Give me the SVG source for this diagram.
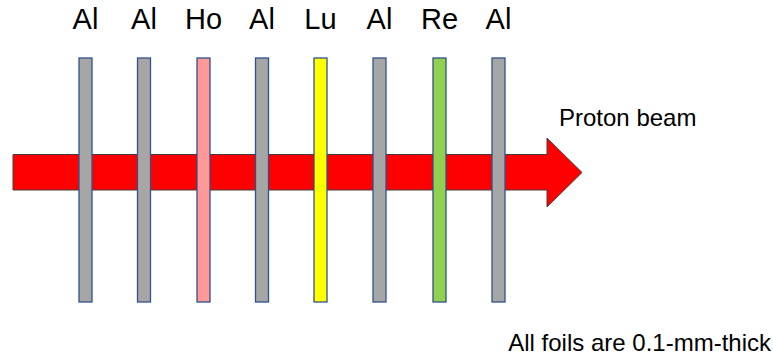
<svg xmlns="http://www.w3.org/2000/svg" width="773" height="360" viewBox="0 0 773 360">
<style>
text{font-family:"Liberation Sans",Arial,sans-serif;fill:#000}
.lbl{font-size:29px;text-anchor:middle}
.cap{font-size:24px}
.foil{stroke:#2F528F;stroke-width:1.3}
.al{fill:#A6A6A6}
</style>
<rect width="773" height="360" fill="#fff"/>
<g id="connectors">
<path id="beam" d="M13,154.5 L547,154.5 L547,138 L582,172.5 L547,207 L547,190 L13,190 Z" fill="#FF0000" stroke="#404040" stroke-width="1"/>
</g>
<g id="foil1"><rect class="foil al" x="79" y="58" width="13" height="244"/><text class="lbl" x="85.5" y="28.5">Al</text></g>
<g id="foil2"><rect class="foil al" x="137.5" y="58" width="13" height="244"/><text class="lbl" x="144" y="28.5">Al</text></g>
<g id="foil3"><rect class="foil" fill="#FF9999" x="197" y="58" width="13" height="244"/><text class="lbl" x="203.5" y="28.5">Ho</text></g>
<g id="foil4"><rect class="foil al" x="255.5" y="58" width="13" height="244"/><text class="lbl" x="262" y="28.5">Al</text></g>
<g id="foil5"><rect class="foil" fill="#FFFF00" x="314" y="58" width="13" height="244"/><text class="lbl" x="320.5" y="28.5">Lu</text></g>
<g id="foil6"><rect class="foil al" x="373" y="58" width="13" height="244"/><text class="lbl" x="379.5" y="28.5">Al</text></g>
<g id="foil7"><rect class="foil" fill="#92D050" x="433" y="58" width="13" height="244"/><text class="lbl" x="439.5" y="28.5">Re</text></g>
<g id="foil8"><rect class="foil al" x="492" y="58" width="13" height="244"/><text class="lbl" x="498.5" y="28.5">Al</text></g>
<g id="labels">
<text class="cap" x="559" y="125.5">Proton beam</text>
<text class="cap" x="771" y="350.5" text-anchor="end">All foils are 0.1-mm-thick</text>
</g>
</svg>
